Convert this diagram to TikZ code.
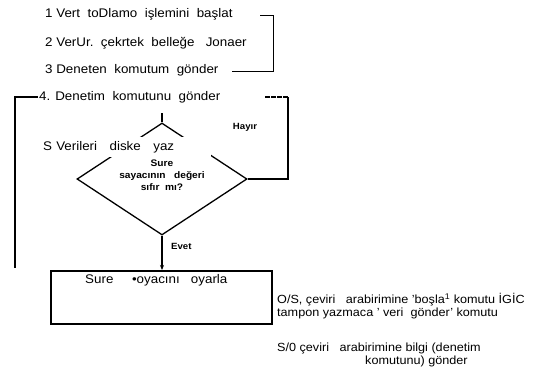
\documentclass[tikz,border=0pt]{standalone}
\usepackage{fontspec}
\setmainfont[FakeStretch=1.07]{Liberation Sans}
\usetikzlibrary{arrows.meta, shapes.geometric, positioning}

\begin{document}
\begin{tikzpicture}[x=1pt, y=-1pt,
  adim/.style={anchor=west, inner sep=1pt, font=\fontsize{12.5}{14}\selectfont},
  yan/.style={anchor=west, inner sep=0pt, align=left, font=\fontsize{11.8}{13}\selectfont},
  etiket/.style={inner sep=1pt, font=\bfseries\fontsize{9}{10}\selectfont},
  karar/.style={diamond, draw, line width=1.3pt, minimum width=170pt,
    minimum height=112pt, inner sep=0pt},
  kararyazi/.style={inner sep=0pt, align=center, font=\bfseries\fontsize{9.5}{12}\selectfont},
  kalin/.style={line width=1.5pt}]
  \useasboundingbox (0,0) rectangle (535,381);
  % adimlar
  \node[adim] (a1) at (44,14) {1 Vert~~toDlamo~~işlemini~~başlat};
  \node[adim] (a2) at (44,43) {2 VerUr.~~çekrtek~~belleğe~~~Jonaer};
  \node[adim] (a3) at (44,70) {3 Deneten~~komutum~~gönder};
  \node[adim] (a4) at (38,97) {4. Denetim~~komutunu~~gönder};
  % kose parantez
  \coordinate (p1) at (260,15);
  \coordinate (p2) at (232,71);
  \draw[line width=0.9pt] (p1) -| (273,71) -- (p2);
  % karar
  \node[karar] (k) at (162,179) {};
  \node[kararyazi] (kt) at (162,175) {Sure\\sayacının~~~değeri\\sıfır~~mı?};
  \coordinate (t) at (162,113);
  \draw[line width=1.3pt] (t) -- (k.north);
  \node[adim, fill=white, text width=165pt, minimum height=20pt, inner sep=3pt]
    (a5) at (40,147) {S Verileri~~~diske~~~yaz};
  \node[etiket] (hayir) at (245,127) {Hayır};
  \node[etiket, anchor=west] (evet) at (170,246) {Evet};
  % kutu
  \node[draw, line width=1.6pt, minimum width=221pt, minimum height=53pt,
    anchor=north west] (kutu) at (50,270) {};
  \node[adim] (a6) at (84,280) {Sure~~~~~•oyacını~~~oyarla};
  \draw[-{Stealth[length=5pt,width=4pt]}, line width=1.3pt] (k.south) -- (k.south |- kutu.north);
  % donguler
  \coordinate (sol) at (15,268);
  \draw[kalin] (a4.west) -| (sol);
  \coordinate (sag) at (288,97);
  \coordinate (sagu) at (264,97);
  \draw[kalin] (k.east) -| (sag);
  \draw[kalin, dash pattern=on 5pt off 1pt] (sag) -- (sagu);
  % aciklamalar
  \node[yan] (n1) at (277,306) {O/S, çeviri~~~arabirimine 'boşla\textsuperscript{1} komutu İGİC\\
    tampon~yazmaca ' veri~~gönder' komutu};
  \node[yan] (n2) at (277,355) {S/0 çeviri~~~arabirimine bilgi (denetim\\
    \hspace*{88pt}komutunu) gönder};
\end{tikzpicture}
\end{document}
